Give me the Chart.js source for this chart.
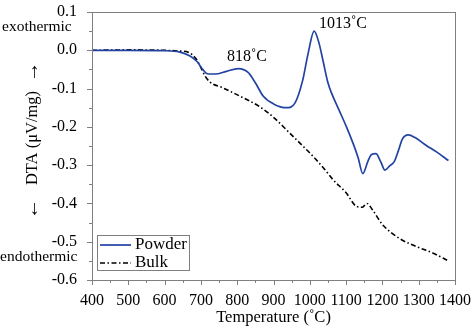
<!DOCTYPE html>
<html><head><meta charset="utf-8">
<script src="https://cdn.jsdelivr.net/npm/chart.js@4/dist/chart.umd.min.js"></script>
<style>html,body{margin:0;padding:0;background:#fff}#w{width:472px;height:330px}</style>
</head><body><div id="w"><canvas id="c" width="472" height="330"></canvas></div>
<script>
const powderT = [400,500,600,640,670,690,705,720,740,770,803,830,850,872,900,936,959,980,995,1012,1025,1037,1050,1060,1080,1101,1120,1133,1146,1160,1170,1182,1195,1207,1220,1233,1244,1255,1271,1290,1320,1350,1382];
const powderV = [0.000,0.000,-0.001,-0.004,-0.015,-0.030,-0.050,-0.062,-0.062,-0.055,-0.048,-0.058,-0.085,-0.120,-0.140,-0.150,-0.138,-0.080,-0.010,0.050,0.020,-0.030,-0.085,-0.112,-0.155,-0.200,-0.245,-0.280,-0.322,-0.290,-0.272,-0.270,-0.290,-0.313,-0.302,-0.290,-0.262,-0.232,-0.221,-0.228,-0.248,-0.266,-0.288];
const bulkT = [400,500,600,640,665,685,700,710,725,760,808,863,900,936,970,1010,1040,1065,1100,1129,1145,1157,1175,1200,1248,1300,1340,1382];
const bulkV = [0.000,0.001,0.000,-0.002,-0.005,-0.020,-0.045,-0.065,-0.083,-0.098,-0.120,-0.148,-0.175,-0.208,-0.240,-0.278,-0.310,-0.339,-0.372,-0.408,-0.410,-0.400,-0.420,-0.455,-0.492,-0.515,-0.530,-0.550];
const seriesNames = ['Powder','Bulk'];
const xTicks = [400,500,600,700,800,900,1000,1100,1200,1300,1400];
const yTicks = [0.1,0.0,-0.1,-0.2,-0.3,-0.4,-0.5,-0.6];
const peakLabels = [{text:'818\u02daC', x:772, y:-0.017},{text:'1013\u02daC', x:1025, y:0.069}];

const FONT = "'Liberation Serif', 'Times New Roman', serif";
const BLUE = '#2343a3';
const GRAY = '#808080';

const deco = {
  id:'deco',
  afterDraw(chart){
    const ctx = chart.ctx, a = chart.chartArea, xs = chart.scales.x, ys = chart.scales.y;
    ctx.save();
    ctx.strokeStyle = GRAY; ctx.lineWidth = 1;
    ctx.strokeRect(Math.round(a.left)+0.5, Math.round(a.top)+0.5, Math.round(a.right-a.left), Math.round(a.bottom-a.top));
    ctx.beginPath();
    for (let i=0;i<xTicks.length;i++){
      const px = Math.round(xs.getPixelForValue(xTicks[i]))+0.5;
      ctx.moveTo(px, a.bottom); ctx.lineTo(px, a.bottom+5);
      if (i<xTicks.length-1){
        const pm = Math.round(xs.getPixelForValue((xTicks[i]+xTicks[i+1])/2))+0.5;
        ctx.moveTo(pm, a.bottom); ctx.lineTo(pm, a.bottom+3);
      }
    }
    for (let i=0;i<yTicks.length;i++){
      const py = Math.round(ys.getPixelForValue(yTicks[i]))+0.5;
      ctx.moveTo(a.left, py); ctx.lineTo(a.left-5, py);
      if (i<yTicks.length-1){
        const pm = Math.round(ys.getPixelForValue((yTicks[i]+yTicks[i+1])/2))+0.5;
        ctx.moveTo(a.left, pm); ctx.lineTo(a.left-3, pm);
      }
    }
    ctx.stroke();
    ctx.fillStyle = '#000';
    ctx.textBaseline = 'middle'; ctx.textAlign = 'left';
    ctx.font = '16px ' + FONT;
    peakLabels.forEach(p => ctx.fillText(p.text, xs.getPixelForValue(p.x), ys.getPixelForValue(p.y)));
    ctx.font = '15.5px ' + FONT;
    ctx.fillText('exothermic', 2, 27);
    ctx.fillText('endothermic', 0, 257);
    // y title
    ctx.save();
    ctx.translate(33, 138); ctx.rotate(-Math.PI/2);
    ctx.textAlign = 'center';
    ctx.font = '16.5px ' + FONT;
    ctx.fillText('DTA (\u03bcV/mg)', 0, 0);
    ctx.font = '20px ' + FONT;
    ctx.fillText('\u2192', 66, 0);
    ctx.fillText('\u2190', -71, 0);
    ctx.restore();
    // legend
    ctx.strokeStyle = GRAY; ctx.lineWidth = 1;
    ctx.strokeRect(97.5, 235.5, 92, 35);
    const ds = chart.data.datasets;
    ctx.font = '17px ' + FONT;
    [245, 263].forEach((ly, i) => {
      ctx.save();
      ctx.strokeStyle = ds[i].borderColor; ctx.lineWidth = ds[i].borderWidth;
      ctx.setLineDash(ds[i].borderDash || []);
      ctx.beginPath(); ctx.moveTo(100, ly); ctx.lineTo(131, ly); ctx.stroke();
      ctx.restore();
      ctx.fillStyle = '#000';
      ctx.fillText(ds[i].label, 135, ly);
    });
    ctx.restore();
  }
};

new Chart(document.getElementById('c'), {
  type:'line',
  data:{datasets:[
    {label:seriesNames[0], data:powderT.map((t,i)=>({x:t,y:powderV[i]})), borderColor:BLUE, borderWidth:1.7, pointRadius:0, cubicInterpolationMode:'monotone', fill:false},
    {label:seriesNames[1], data:bulkT.map((t,i)=>({x:t,y:bulkV[i]})), borderColor:'#000', borderWidth:1.6, borderDash:[5,2.5,1.5,2.5], pointRadius:0, cubicInterpolationMode:'monotone', fill:false}
  ]},
  options:{
    responsive:false, animation:false,
    layout:{padding:{top:12,right:17,left:0,bottom:0}},
    plugins:{legend:{display:false}, tooltip:{enabled:false}},
    scales:{
      x:{type:'linear', min:400, max:1400,
        afterBuildTicks:s=>{s.ticks = xTicks.map(v=>({value:v}));},
        afterFit:s=>{s.height = 50; s.paddingLeft = 0; s.paddingRight = 0;},
        grid:{display:false}, border:{display:false},
        ticks:{color:'#000', font:{family:FONT,size:16}, padding:3, autoSkip:false, maxRotation:0, callback:v=>String(v)},
        title:{display:true, text:'Temperature (\u02daC)', color:'#000', font:{family:FONT,size:16.5}, padding:{top:0,bottom:2}}
      },
      y:{type:'linear', min:-0.6, max:0.1,
        afterBuildTicks:s=>{s.ticks = yTicks.map(v=>({value:v}));},
        afterFit:s=>{s.width = 92; s.paddingTop = 0; s.paddingBottom = 0;},
        grid:{display:false}, border:{display:false},
        ticks:{color:'#000', font:{family:FONT,size:16}, padding:7, autoSkip:false, callback:v=>(Math.abs(v)<1e-9?0:v).toFixed(1)}
      }
    }
  },
  plugins:[deco]
});
</script></body></html>
